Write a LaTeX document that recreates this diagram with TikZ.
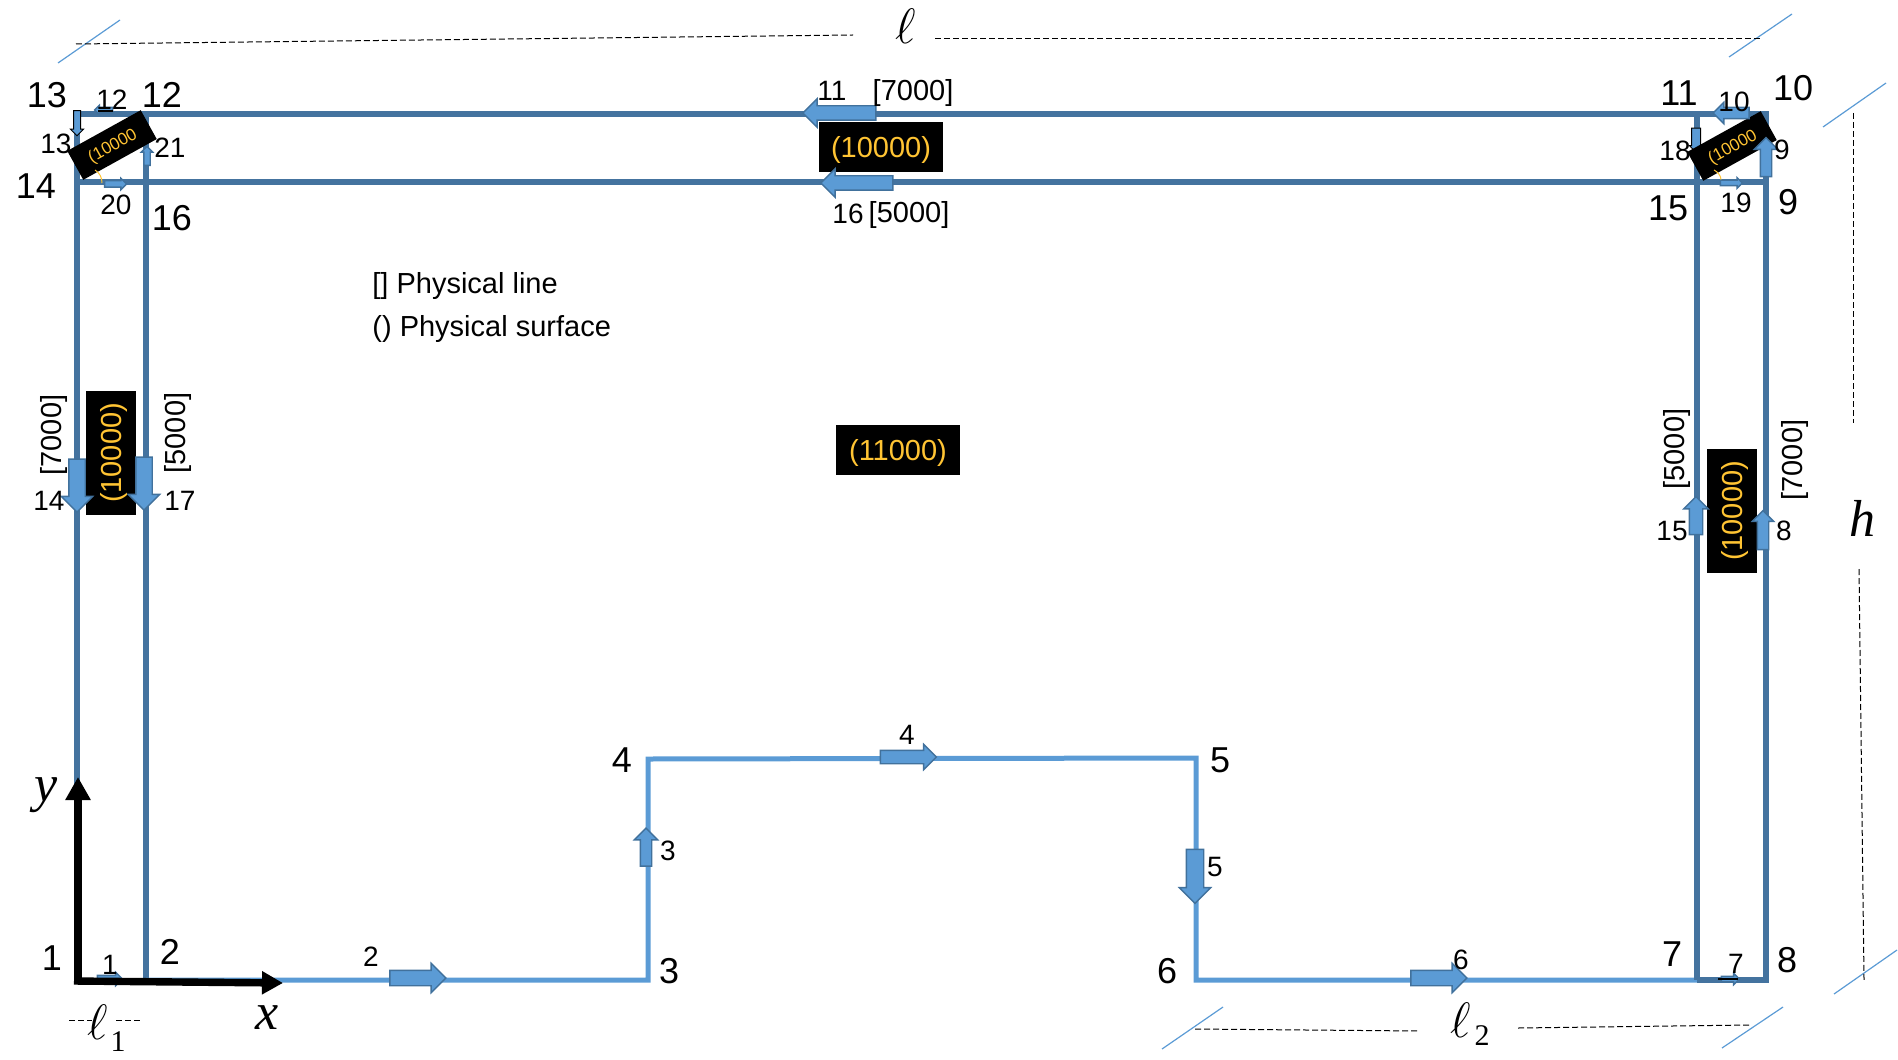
\documentclass[tikz,border=0pt]{standalone}
\usepackage{fontspec}
\setmainfont{Liberation Sans}
\newfontfamily\serifdigit{Liberation Serif}
\usepackage{xcolor}
\usetikzlibrary{shapes.arrows,arrows.meta,positioning}
\definecolor{framedark}{HTML}{44739F}
\definecolor{framelight}{HTML}{5B9BD5}
\definecolor{arrowedge}{HTML}{41719C}
\definecolor{surfyellow}{HTML}{FFC433}
\tikzset{
  bignum/.style={font=\fontsize{18}{18}\selectfont, inner sep=0pt},
  smallnum/.style={font=\fontsize{14}{14}\selectfont, inner sep=0pt},
  physline/.style={font=\fontsize{14.5}{14.5}\selectfont, inner sep=0pt},
  legendtxt/.style={font=\fontsize{14.5}{14.5}\selectfont, inner sep=0pt, anchor=west},
  mathbig/.style={font=\fontsize{25}{25}\selectfont, inner sep=0pt},
  italbig/.style={font=\fontsize{26}{26}\selectfont\serifdigit\itshape, inner sep=0pt},
  subnum/.style={font=\fontsize{15}{15}\selectfont\serifdigit, inner sep=0pt},
  surfbox/.style={fill=black, text=surfyellow, font=\fontsize{14.5}{14.5}\selectfont, inner sep=0pt, text height=10.5pt, text depth=0pt, minimum width=62pt, minimum height=25pt},
  surftilt/.style={fill=black, text=surfyellow, font=\fontsize{8.5}{8.5}\selectfont, inner sep=0pt, minimum width=42pt, minimum height=16.5pt, rotate=29, text depth=0pt},
  thickline/.style={line width=3pt, draw=framedark, line cap=square},
  thinline/.style={line width=2.5pt, draw=framelight},
  axisarr/.style={line width=3.7pt, draw=black},
  tickline/.style={line width=0.6pt, draw=framelight},
  dimline/.style={line width=0.5pt, draw=black, dash pattern=on 3pt off 1.5pt},
  blockarr/.style n args={3}{single arrow, draw=arrowedge, fill=framelight, line width=0.7pt, inner xsep=0pt,
    inner ysep=#2/2-#3, minimum height=#1, single arrow head extend=#3, single arrow head indent=0pt},
  blackarr/.style n args={3}{blockarr={#1}{#2}{#3}, draw=black, line width=0.5pt},
}
\begin{document}
\begin{tikzpicture}[x=0.5pt, y=-0.5pt]
  \useasboundingbox (0,0) rectangle (1898,1059);
  % corner points of the outline
  \coordinate (p1) at (77,980);
  \coordinate (p2) at (146,980);
  \coordinate (p3) at (648,980);
  \coordinate (p4) at (648,759);
  \coordinate (p5) at (1196,758);
  \coordinate (p6) at (1196,980);
  \coordinate (p7) at (1697,980);
  \coordinate (p8) at (1766,980);
  \coordinate (p9) at (1766,182);
  \coordinate (p10) at (1766,114);
  \coordinate (p11) at (1697,114);
  \coordinate (p12) at (146,114);
  \coordinate (p13) at (77,114);
  \coordinate (p14) at (77,182);
  \coordinate (p15) at (1697,182);
  \coordinate (p16) at (146,182);
  % lines
  \draw[thinline] (p2) -- (p3) -- (p4) -- (p5) -- (p6) -- (p7);
  \draw[thickline] (p7) -- (p8) -- (p10) -- (p13) -- (p1);
  \draw[thickline] (p14) -- (p9);
  \draw[thickline] (p12) -- (p2);
  \draw[thickline] (p11) -- (p7);
  % this one runs under the tilted box
  \node[blackarr={12pt}{6pt}{1pt}, rotate=-90] (a18) at (1696,138) {};
  % surfaces
  \node[surfbox] (s1) at (881,147) {(10000)};
  \node[surfbox] (s2) at (898,450) {(11000)};
  \node[surfbox, rotate=90] (s3) at (111,453) {(10000)};
  \node[surfbox, rotate=90] (s4) at (1732,511) {(10000)};
  \node[surftilt] (s5) at (112,145) {(10000};
  \node[surftilt] (s6) at (1732,146) {(10000};
  \draw[surfyellow, line width=0.5pt] (95,170) .. controls (100,173) and (102,178) .. (102,183);
  \draw[surfyellow, line width=0.5pt] (1714,170) .. controls (1718,172) and (1721,176) .. (1721,180);
  % arrows on the lines
  \node[blockarr={12.5pt}{6pt}{1.5pt}] (a1) at (108,979) {};
  \node[blockarr={28pt}{14pt}{3.5pt}] (a2) at (414,978) {};
  \node[blockarr={19pt}{11pt}{3pt}, rotate=90] (a3) at (646,850) {};
  \node[blockarr={28pt}{12pt}{3pt}] (a4) at (905,757) {};
  \node[blockarr={27pt}{15pt}{3.5pt}, rotate=-90] (a5) at (1195,872) {};
  \node[blockarr={28pt}{14pt}{3.5pt}] (a6) at (1435,978) {};
  \node[blockarr={9pt}{5pt}{1.5pt}] (a7) at (1729,979) {};
  \node[blockarr={19.5pt}{10pt}{2.5pt}, rotate=90] (a8) at (1763,533) {};
  \node[blockarr={19.5pt}{11pt}{3pt}, rotate=90] (a9) at (1766,160) {};
  \node[blockarr={18pt}{10pt}{2.5pt}, rotate=180] (a10) at (1734,113) {};
  \node[blockarr={36.5pt}{13.5pt}{3.5pt}, rotate=180] (a11) at (843,113) {};
  \node[blockarr={9pt}{4pt}{1pt}, rotate=180] (a12) at (105,110) {};
  \node[blackarr={12.5pt}{6pt}{1.5pt}, rotate=-90] (a13) at (77,121.5) {};
  \node[blockarr={26.5pt}{15pt}{3.75pt}, rotate=-90] (a14) at (77,481.5) {};
  \node[blockarr={19pt}{11.5pt}{2.75pt}, rotate=90] (a15) at (1696,519) {};
  \node[blockarr={36pt}{13.5pt}{3.5pt}, rotate=180] (a16) at (860.5,183) {};
  \node[blockarr={26.5pt}{15pt}{3.75pt}, rotate=-90] (a17) at (144,479.5) {};
  \node[blockarr={11pt}{4.5pt}{1.25pt}] (a19) at (1730,183) {};
  \node[blockarr={11pt}{5pt}{1.25pt}] (a20) at (114,184) {};
  \node[blockarr={9.5pt}{5pt}{1.25pt}, rotate=90] (a21) at (147,157.5) {};
  % black strokes on the two small arrows
  \coordinate (st1) at (98,111);
  \coordinate (st2) at (113,111);
  \coordinate (st3) at (1718,979);
  \coordinate (st4) at (1738,979);
  \draw[black, line width=0.6pt] (st1) -- (st2);
  \draw[black, line width=0.6pt] (st3) -- (st4);
  % axes
  \coordinate (xtip) at (283,983);
  \coordinate (ytip) at (78,777);
  \coordinate (xorig) at (74,981);
  \coordinate (yorig) at (78,984);
  \draw[axisarr, -{Triangle[length=10.5pt, width=11pt]}] (xorig) -- (xtip);
  \draw[axisarr, -{Triangle[length=11.5pt, width=12pt]}] (yorig) -- (ytip);
  \node[italbig] (xlab) at (267,1018) {x};
  \node[italbig] (ylab) at (46,795) {y};
  % dimension marks
  \draw[tickline] (58,63) -- (120,20);
  \draw[tickline] (1729,57) -- (1792,14);
  \draw[tickline] (1823,127) -- (1886,83);
  \draw[tickline] (1834,994) -- (1897,950);
  \draw[tickline] (1722,1048) -- (1783,1007);
  \draw[tickline] (1162,1049) -- (1223,1007);
  \node[mathbig] (lentop) at (906,26) {$\ell$};
  \node[italbig] (lenh) at (1862,518) {h};
  \node[mathbig] (lenone) at (98,1022) {$\ell$};
  \node[subnum] (subone) at (118,1042) {1};
  \node[mathbig] (lentwo) at (1461,1020) {$\ell$};
  \node[subnum] (subtwo) at (1482,1036) {2};
  \coordinate (dt1) at (76,44);
  \coordinate (dt2) at (853,35);
  \coordinate (dt3) at (935,39);
  \coordinate (dt4) at (1763,39);
  \draw[dimline] (dt1) -- (dt2);
  \draw[dimline] (dt3) -- (dt4);
  \coordinate (dr1) at (1853,113);
  \coordinate (dr2) at (1853,423);
  \coordinate (dr3) at (1859,569);
  \coordinate (dr4) at (1864,980);
  \draw[dimline] (dr1) -- (dr2);
  \draw[dimline] (dr3) -- (dr4);
  \coordinate (db1) at (1195,1029);
  \coordinate (db2) at (1419,1031);
  \coordinate (db3) at (1518,1028);
  \coordinate (db4) at (1749,1025);
  \draw[dimline] (db1) -- (db2);
  \draw[dimline] (db3) -- (db4);
  \coordinate (dl1) at (69,1020);
  \coordinate (dl2) at (92,1020);
  \coordinate (dl3) at (116,1020);
  \coordinate (dl4) at (141,1020);
  \draw[dimline] (dl1) -- (dl2);
  \draw[dimline] (dl3) -- (dl4);
  % point numbers
  \node[bignum] (n1) at (52,958) {1};
  \node[bignum] (n2) at (170,952) {2};
  \node[bignum] (n3) at (669,971) {3};
  \node[bignum] (n4) at (622,760) {4};
  \node[bignum] (n5) at (1220,760) {5};
  \node[bignum] (n6) at (1167,971) {6};
  \node[bignum] (n7) at (1672,954) {7};
  \node[bignum] (n8) at (1787,960) {8};
  \node[bignum] (n9) at (1788,202) {9};
  \node[bignum] (n10) at (1793,88) {10};
  \node[bignum] (n11) at (1679,93) {11};
  \node[bignum] (n12) at (162,95) {12};
  \node[bignum] (n13) at (47,95) {13};
  \node[bignum] (n14) at (36,186) {14};
  \node[bignum] (n15) at (1668,208) {15};
  \node[bignum] (n16) at (172,218) {16};
  % line numbers
  \node[smallnum] (l1) at (110,965) {1};
  \node[smallnum] (l2) at (371,957) {2};
  \node[smallnum] (l3) at (668,851) {3};
  \node[smallnum] (l4) at (907,735) {4};
  \node[smallnum] (l5) at (1215,867) {5};
  \node[smallnum] (l6) at (1461,960) {6};
  \node[smallnum] (l7) at (1736,964) {7};
  \node[smallnum] (l8) at (1784,531) {8};
  \node[smallnum] (l9) at (1782,150) {9};
  \node[smallnum] (l10) at (1734,102) {10};
  \node[smallnum] (l11) at (832,91) {11};
  \node[smallnum] (l12) at (112,100) {12};
  \node[smallnum] (l13) at (56,144) {13};
  \node[smallnum] (l14) at (49,501) {14};
  \node[smallnum] (l15) at (1672,531) {15};
  \node[smallnum] (l16) at (848,214) {16};
  \node[smallnum] (l17) at (180,501) {17};
  \node[smallnum] (l18) at (1675,151) {18};
  \node[smallnum] (l19) at (1736,203) {19};
  \node[smallnum] (l20) at (116,205) {20};
  \node[smallnum] (l21) at (170,148) {21};
  % physical lines
  \node[physline] (b1) at (913,93) {[7000]};
  \node[physline] (b2) at (909,215) {[5000]};
  \node[physline, rotate=90] (b3) at (54,435) {[7000]};
  \node[physline, rotate=90] (b4) at (178,433) {[5000]};
  \node[physline, rotate=90] (b5) at (1677,449) {[5000]};
  \node[physline, rotate=90] (b6) at (1795,460) {[7000]};
  % legend
  \node[legendtxt] (leg1) at (372,286) {[] Physical line};
  \node[legendtxt] (leg2) at (372,329) {() Physical surface};
\end{tikzpicture}
\end{document}
